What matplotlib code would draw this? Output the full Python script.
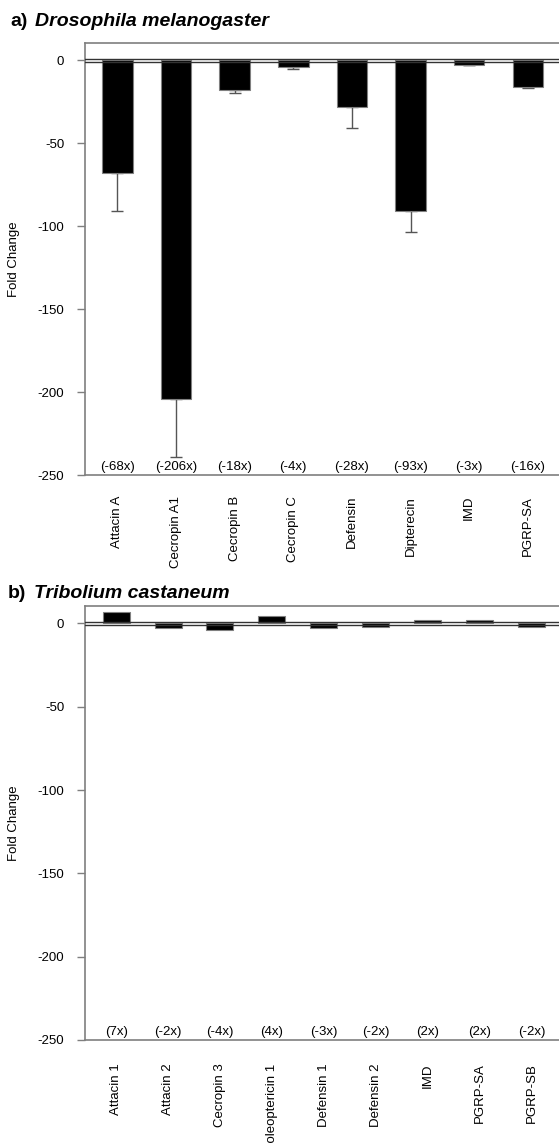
import numpy as np
import matplotlib.pyplot as plt

plt.rcParams['font.family'] = ['Liberation Sans', 'DejaVu Sans']
plt.rcParams['axes.unicode_minus'] = False

# panel a - Drosophila melanogaster
genes_a = ['Attacin A', 'Cecropin A1', 'Cecropin B', 'Cecropin C',
           'Defensin', 'Dipterecin', 'IMD', 'PGRP-SA']
fold_a = [-68, -204, -18, -4, -28, -91, -2.5, -16]
err_a = [23, 35, 1.5, 1, 12.5, 12.5, 0.5, 0.5]
txt_a = ['(-68x)', '(-206x)', '(-18x)', '(-4x)', '(-28x)', '(-93x)', '(-3x)', '(-16x)']

# panel b - Tribolium castaneum
genes_b = ['Attacin 1', 'Attacin 2', 'Cecropin 3', 'Coleoptericin 1',
           'Defensin 1', 'Defensin 2', 'IMD', 'PGRP-SA', 'PGRP-SB']
fold_b = [7, -2.5, -4, 4.3, -2.7, -2, 2, 2.2, -2.4]
err_b = [0, 0, 0, 0, 0, 0, 0, 0, 0]
txt_b = ['(7x)', '(-2x)', '(-4x)', '(4x)', '(-3x)', '(-2x)', '(2x)', '(2x)', '(-2x)']

W, H = 559, 1143
fig = plt.figure(figsize=(W / 100, H / 100), dpi=100)
ax_a = fig.add_axes([85 / W, 1 - 475 / H, 1 - 85 / W, (475 - 43) / H])
ax_b = fig.add_axes([85 / W, 1 - 1040 / H, 1 - 85 / W, (1040 - 606) / H])

spine_col = '#7f7f7f'


def draw(ax, genes, fold, err, txt, xmin, xmax, pad):
    x = np.arange(len(genes))
    ax.bar(x, fold, width=0.52, color='black', edgecolor='#808080',
           linewidth=0.8, zorder=3)
    # one-sided error bars, pointing away from zero
    fold = np.array(fold, dtype=float)
    err = np.array(err, dtype=float)
    lower = np.where(fold < 0, err, 0)
    upper = np.where(fold >= 0, err, 0)
    show = err > 0
    if show.any():
        ax.errorbar(x[show], fold[show], yerr=[lower[show], upper[show]],
                    fmt='none', ecolor='#555555', elinewidth=1, capsize=4,
                    capthick=1, zorder=2)
    ax.axhline(1, color='#333333', lw=1, zorder=4)
    ax.axhline(-1, color='#333333', lw=1, zorder=4)
    for xi, t in zip(x, txt):
        ax.text(xi, -245, t, ha='center', va='center', fontsize=9.5)
    ax.set_xlim(xmin, xmax)
    ax.set_ylim(-250, 10.5)
    ax.set_yticks([-250, -200, -150, -100, -50, 0])
    ax.set_xticks(x)
    ax.set_xticklabels(genes, rotation=90, fontsize=9.5)
    ax.tick_params(axis='x', length=0, pad=pad)
    ax.tick_params(axis='y', length=6, width=1, color=spine_col, pad=9,
                   labelsize=9.5)
    for s in ['left', 'bottom', 'top']:
        ax.spines[s].set_color(spine_col)
        ax.spines[s].set_linewidth(1.2)
    ax.spines['right'].set_visible(False)
    ax.set_ylabel('Fold Change', fontsize=9.5, va='center')
    ax.yaxis.set_label_coords(-71 / 474, 0.5)


draw(ax_a, genes_a, fold_a, err_a, txt_a, -0.55, 7.53, 15)
draw(ax_b, genes_b, fold_b, err_b, txt_b, -0.6, 8.53, 17)

fig.text(10 / W, 1 - 21 / H, 'a)', fontsize=14, weight='bold', va='center')
fig.text(35 / W, 1 - 21 / H, 'Drosophila melanogaster', fontsize=14,
         weight='bold', style='italic', va='center')
fig.text(8 / W, 1 - 594 / H, 'b)', fontsize=14, weight='bold', va='center')
fig.text(34 / W, 1 - 594 / H, 'Tribolium castaneum', fontsize=14,
         weight='bold', style='italic', va='center')

fig.savefig('out.png', dpi=100)
